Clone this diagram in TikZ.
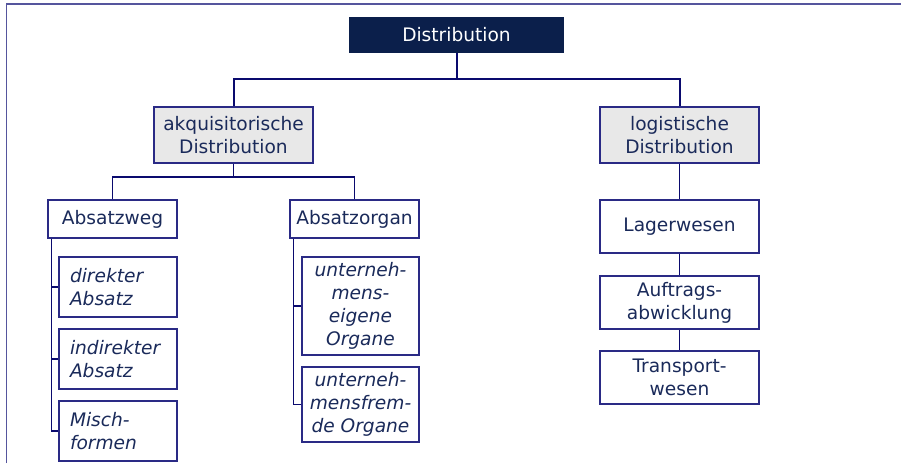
\documentclass[tikz,border=0pt]{standalone}
\usepackage{fontspec}
\setmainfont{DejaVu Sans}
\definecolor{navy}{HTML}{0B1F4B}
\definecolor{linec}{HTML}{0A0A6E}
\definecolor{boxline}{HTML}{2A2A85}
\definecolor{txt}{HTML}{1A2A5A}
\definecolor{grayfill}{HTML}{E8E8E8}
\newcommand{\dfont}{\fontsize{18.6}{23}\selectfont}
\begin{document}
\begin{tikzpicture}[x=1pt,y=-1pt,
  every node/.style={font=\dfont, text=txt},
  box/.style={draw=boxline, line width=1.3pt, rectangle, inner sep=0pt, align=center},
  headbox/.style={box, fill=navy, draw=navy, text=white},
  graybox/.style={box, fill=grayfill},
  leftbox/.style={box, align=left, text width=96pt, font=\dfont\itshape},
  itbox/.style={box, font=\dfont\itshape},
  conn/.style={draw=linec, line width=1.4pt},
  mainconn/.style={draw=linec, line width=2pt},
  frame/.style={draw=boxline!80, line width=1.2pt}
]
\useasboundingbox (0,0) rectangle (901,463);
\draw[frame] (6.5,463) -- (6.5,4) -- (901,4);

\node[headbox, minimum width=213pt, minimum height=34pt] (dist) at (456.5,35) {Distribution};
\node[graybox, minimum width=159pt, minimum height=56pt] (akq) at (233.5,135) {akquisitorische\\Distribution};
\node[graybox, minimum width=159pt, minimum height=56pt] (log) at (679.5,135) {logistische\\Distribution};

\node[box, minimum width=129pt, minimum height=38pt] (aw) at (112.5,219) {Absatzweg};
\node[box, minimum width=129pt, minimum height=38pt] (ao) at (354.5,219) {Absatzorgan};

\node[leftbox, minimum width=118pt, minimum height=60pt] (dA) at (118,287) {direkter\\Absatz};
\node[leftbox, minimum width=118pt, minimum height=60pt] (iA) at (118,359) {indirekter\\Absatz};
\node[leftbox, minimum width=118pt, minimum height=60pt] (mf) at (118,431) {Misch-\\formen};

\node[itbox, minimum width=117pt, minimum height=98pt] (ue) at (360.5,306) {unterneh-\\mens-\\eigene\\Organe};
\node[itbox, minimum width=117pt, minimum height=75pt] (uf) at (360.5,404.5) {unterneh-\\mensfrem-\\de Organe};

\node[box, minimum width=159pt, minimum height=53pt] (lw) at (679.5,226.5) {Lagerwesen};
\node[box, minimum width=159pt, minimum height=53pt] (ab) at (679.5,302.5) {Auftrags-\\abwicklung};
\node[box, minimum width=159pt, minimum height=53pt] (tw) at (679.5,377.5) {Transport-\\wesen};

\coordinate (j1) at (456.5,79);
\draw[mainconn] (akq.north) |- (j1) -| (log.north);
\draw[mainconn] (dist.south) -- (j1);

\coordinate (j2) at (233.5,177);
\draw[conn] (aw.north) |- (j2) -| (ao.north);
\draw[conn] (akq.south) -- (j2);

\coordinate (awx) at ([xshift=4]aw.south west);
\draw[conn] (awx) |- (mf.west);
\draw[conn] (awx |- dA.west) -- (dA.west);
\draw[conn] (awx |- iA.west) -- (iA.west);

\coordinate (aox) at ([xshift=4]ao.south west);
\draw[conn] (aox) |- (uf.west);
\draw[conn] (aox |- ue.west) -- (ue.west);

\draw[conn] (log.south) -- (lw.north);
\draw[conn] (lw.south) -- (ab.north);
\draw[conn] (ab.south) -- (tw.north);
\end{tikzpicture}
\end{document}
